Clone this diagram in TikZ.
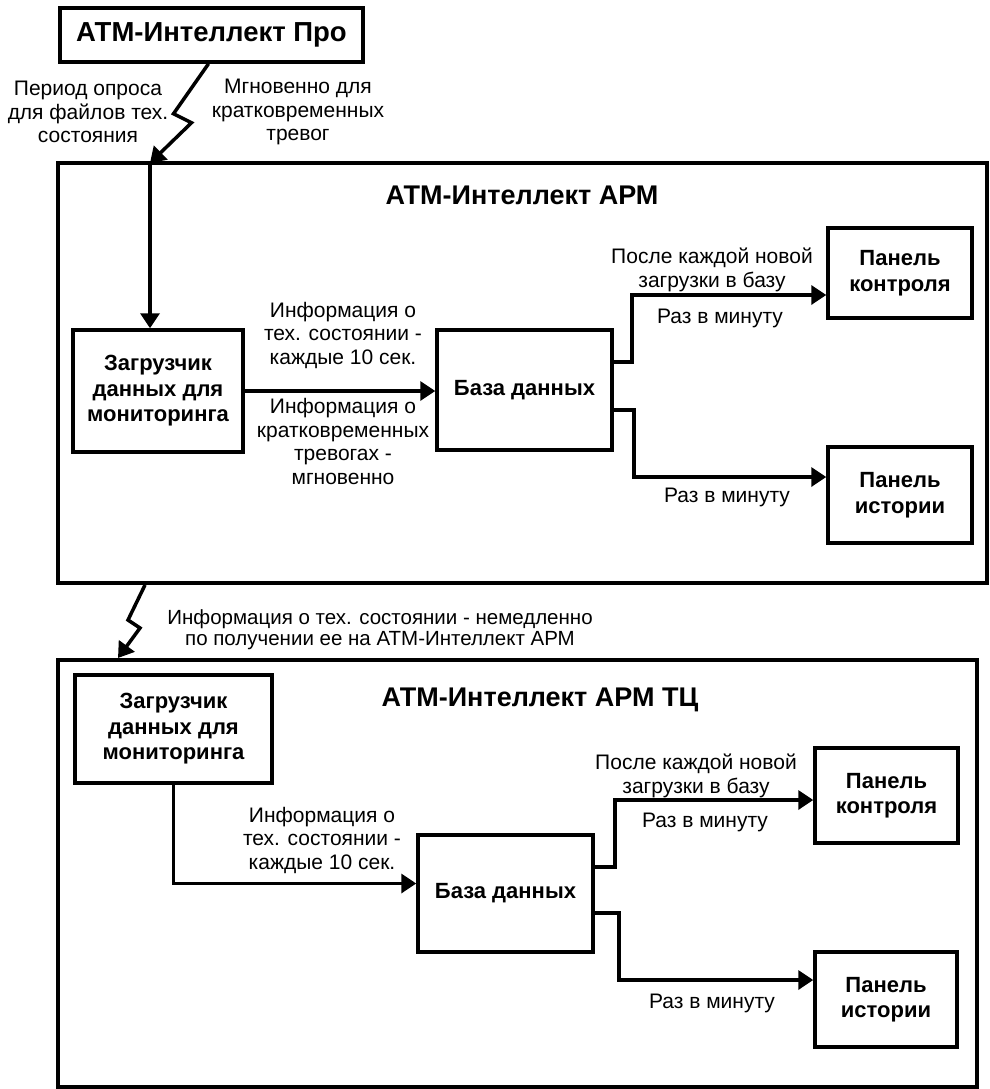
\documentclass[tikz,border=0pt]{standalone}
\usepackage{fontspec}
\setmainfont{Liberation Sans}
\usetikzlibrary{arrows.meta, positioning}

\begin{document}
\begin{tikzpicture}[
    x=1pt, y=-1pt,
    zone/.style={rectangle, draw, line width=4pt, inner sep=0pt},
    block/.style={rectangle, draw, line width=3.5pt, fill=white, align=center, inner sep=0pt, font=\fontsize{22}{25.5}\selectfont\bfseries},
    heading/.style={inner sep=0pt, font=\fontsize{27}{30}\selectfont\bfseries},
    annot/.style={align=center, inner sep=0pt, font=\fontsize{21}{23.5}\selectfont},
    arrow/.style={-{Triangle[length=15pt, width=19pt]}, line width=3.5pt}
]
    \useasboundingbox (0,0) rectangle (989,1089);

    % Frames
    \node[zone, minimum width=929pt, minimum height=420pt] (apm) at (522.5,373) {};
    \node[zone, minimum width=919pt, minimum height=427pt] (apmtc) at (517.5,873.5) {};

    % Source
    \node[block, font=\fontsize{27.5}{30}\selectfont\bfseries, minimum width=303pt, minimum height=54pt] (pro) at (211.5,35) {АТМ-Интеллект Про};
    \coordinate (entry) at (150,163);
    \node[annot] (poll) at (88,112) {Период опроса\\для файлов тех.\\состояния};
    \node[annot] (instant) at (298,112) {Мгновенно для\\кратковременных\\тревог};

    % Workstation
    \node[heading] (apmtitle) at (522,195) {АТМ-Интеллект АРМ};
    \node[block, minimum width=170pt, minimum height=122pt] (loader) at (158,391) {Загрузчик\\данных для\\мониторинга};
    \node[block, minimum width=175pt, minimum height=120pt] (db) at (524.5,390) {База данных};
    \node[block, minimum width=144pt, minimum height=90pt] (ctrl) at (900,273) {Панель\\контроля};
    \node[block, minimum width=144pt, minimum height=96pt] (hist) at (900,495) {Панель\\истории};

    \node[annot] (techinfo) at (343,335) {Информация о\\тех. состоянии -\\каждые 10 сек.};
    \node[annot] (alarminfo) at (343,441.5) {Информация о\\кратковременных\\тревогах -\\мгновенно};
    \node[annot] (upload) at (712,270) {После каждой новой\\загрузки в базу};
    \node[annot] (ctrlrate) at (720,318) {Раз в минуту};
    \node[annot] (histrate) at (727,497) {Раз в минуту};

    % Arrows - workstation
    \draw[arrow] ([xshift=-3pt]pro.south) -- ++(-35,50) -- ++(18,9) -- (entry);
    \draw[arrow] (entry) -- (entry |- loader.north);
    \draw[arrow] (loader) -- (loader -| db.west);
    \draw[arrow] ([yshift=28pt]db.east) -- ++(18,0) |- ([yshift=-22pt]ctrl.west);
    \draw[arrow] ([yshift=-20pt]db.east) -- ++(20,0) |- ([yshift=18pt]hist.west);

    % Link between workstations
    \coordinate (exit) at (145,585);
    \coordinate (entrytc) at (118,658);
    \draw[arrow] (exit) -- ++(-17,35) -- ++(12,8) -- (entrytc);
    \node[annot, font=\fontsize{20.5}{21}\selectfont] (relay) at (380,630) {Информация о тех. состоянии - немедленно\\по получении ее на АТМ-Интеллект АРМ};

    % Shopping centre workstation
    \node[heading] (tctitle) at (540,700) {АТМ-Интеллект АРМ ТЦ};
    \node[block, minimum width=197pt, minimum height=108pt] (loadertc) at (173.5,729) {Загрузчик\\данных для\\мониторинга};
    \node[block, minimum width=175pt, minimum height=117pt] (dbtc) at (505.5,893.5) {База данных};
    \node[block, minimum width=143pt, minimum height=95pt] (ctrltc) at (886.5,795.5) {Панель\\контроля};
    \node[block, minimum width=142pt, minimum height=95pt] (histtc) at (886,999.5) {Панель\\истории};

    \node[annot] (techinfotc) at (322,840) {Информация о\\тех. состоянии -\\каждые 10 сек.};
    \node[annot] (uploadtc) at (696,776) {После каждой новой\\загрузки в базу};
    \node[annot] (ctrlratetc) at (705,822) {Раз в минуту};
    \node[annot] (histratetc) at (712,1003) {Раз в минуту};

    % Arrows - shopping centre workstation
    \draw[arrow] (loadertc.south) |- ([yshift=10pt]dbtc.west);
    \draw[arrow] ([yshift=26.5pt]dbtc.east) -- ++(20,0) |- ([yshift=-4.5pt]ctrltc.west);
    \draw[arrow] ([yshift=-19.5pt]dbtc.east) -- ++(24,0) |- ([yshift=19.5pt]histtc.west);

\end{tikzpicture}
\end{document}
